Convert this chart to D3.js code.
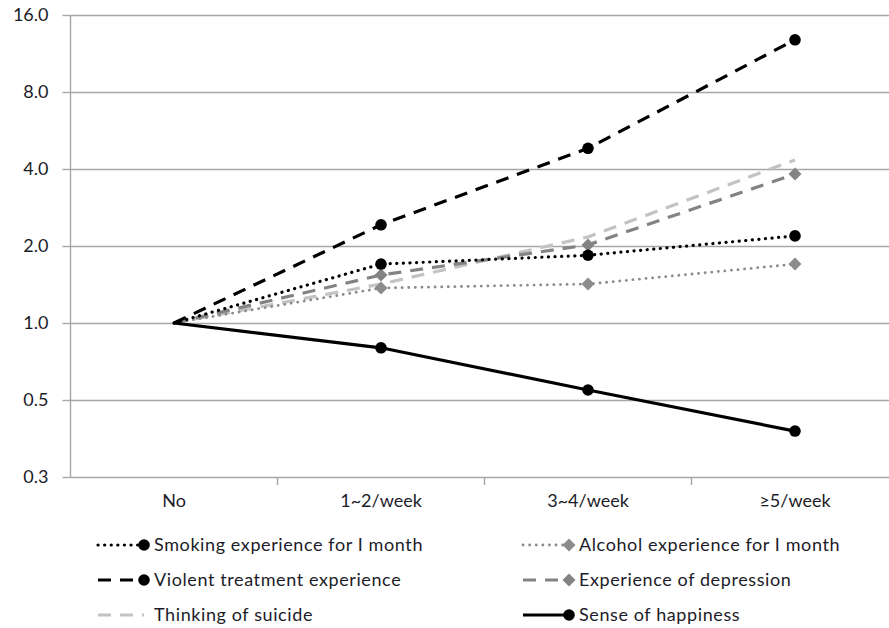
<!DOCTYPE html>
<html><head><meta charset="utf-8">
<script src="https://cdn.jsdelivr.net/npm/d3@7"></script>
<style>html,body{margin:0;padding:0;background:#fff;}svg{display:block;font-family:Lato,"Open Sans",sans-serif;}</style>
</head><body>
<svg id="chart" width="889" height="628"></svg>
<script>
const categories = ["No", "1~2/week", "3~4/week", "\u22655/week"];
const yTicks = [0.25, 0.5, 1, 2, 4, 8, 16];
const yTickLabels = ["0.3", "0.5", "1.0", "2.0", "4.0", "8.0", "16.0"];

const smoking    = [1.0, 1.70, 1.84, 2.19];
const alcohol    = [1.0, 1.37, 1.42, 1.70];
const violent    = [1.0, 2.42, 4.82, 12.8];
const depression = [1.0, 1.54, 2.02, 3.82];
const suicide    = [1.0, 1.42, 2.17, 4.34];
const happiness  = [1.0, 0.80, 0.547, 0.378];

const seriesNames = ["Smoking experience for I month", "Alcohol experience for I month",
  "Violent treatment experience", "Experience of depression", "Thinking of suicide", "Sense of happiness"];

const series = [
  {name: seriesNames[0], values: smoking, color: "#000", width: 3.2, dash: "0.1 6.5", cap: "round", marker: "circle", mcolor: "#000"},
  {name: seriesNames[1], values: alcohol, color: "#8c8c8c", width: 2.8, dash: "0.1 6.5", cap: "round", marker: "diamond", mcolor: "#8c8c8c"},
  {name: seriesNames[2], values: violent, color: "#000", width: 3.2, dash: "13 9", cap: "butt", marker: "circle", mcolor: "#000"},
  {name: seriesNames[3], values: depression, color: "#838383", width: 3.2, dash: "13 9", cap: "butt", marker: "diamond", mcolor: "#838383"},
  {name: seriesNames[4], values: suicide, color: "#c3c3c3", width: 3.2, dash: "13 9", cap: "butt", marker: null, mcolor: null},
  {name: seriesNames[5], values: happiness, color: "#000", width: 3.2, dash: null, cap: "butt", marker: "circle", mcolor: "#000"}
];

const svg = d3.select("#chart");
const x = d3.scaleBand().domain(categories).range([70.5, 898.5]);
const y = d3.scaleLog().base(2).domain([0.25, 16]).range([477, 15]);
const cx = c => x(c) + x.bandwidth() / 2;
const textColor = "#1c1c28";

// gridlines
svg.append("g").selectAll("line").data(yTicks.slice(1)).join("line")
  .attr("x1", 70.5).attr("x2", 889).attr("y1", d => Math.round(y(d)) + 0.5).attr("y2", d => Math.round(y(d)) + 0.5)
  .attr("stroke", "#a6a6a6").attr("stroke-width", 1.4);

// y axis
const yAxis = d3.axisLeft(y).tickValues(yTicks).tickFormat((d, i) => yTickLabels[i]).tickSize(8).tickPadding(14);
const gy = svg.append("g").attr("transform", "translate(70.5,0)").call(yAxis);
gy.select(".domain").attr("stroke", "#a6a6a6").attr("stroke-width", 1.4).attr("d", "M0,15V477");
gy.selectAll(".tick line").attr("stroke", "#a6a6a6").attr("stroke-width", 1.4);
gy.selectAll(".tick text").attr("fill", textColor).style("font-size", "18px").style("font-family", "Lato, sans-serif");

// x axis
const xAxis = d3.axisBottom(x).tickSize(0).tickPadding(17);
const gx = svg.append("g").attr("transform", "translate(0,477.5)").call(xAxis);
gx.select(".domain").attr("stroke", "#a6a6a6").attr("stroke-width", 1.4).attr("d", "M70.5,0H889");
gx.selectAll(".tick text").attr("fill", textColor).style("font-size", "18px").style("font-family", "Lato, sans-serif");
// category boundary ticks
svg.append("g").selectAll("line").data(categories.slice(1)).join("line")
  .attr("x1", d => x(d)).attr("x2", d => x(d)).attr("y1", 477.5).attr("y2", 485)
  .attr("stroke", "#a6a6a6").attr("stroke-width", 1.4);

const line = d3.line().x((d, i) => cx(categories[i])).y(d => y(d));

function drawMarker(g, type, color, px, py) {
  if (type === "circle") {
    g.append("circle").attr("cx", px).attr("cy", py).attr("r", 5.8).attr("fill", color);
  } else if (type === "diamond") {
    g.append("path").attr("d", `M${px},${py-6.5}L${px+6.5},${py}L${px},${py+6.5}L${px-6.5},${py}Z`).attr("fill", color);
  }
}

const order = [4, 3, 1, 0, 2, 5];
const plot = svg.append("g");
order.forEach(k => {
  const s = series[k];
  plot.append("path").attr("d", line(s.values)).attr("fill", "none")
    .attr("stroke", s.color).attr("stroke-width", s.width)
    .attr("stroke-dasharray", s.dash).attr("stroke-linecap", s.cap);
  if (s.marker) {
    s.values.forEach((v, i) => { if (i > 0) drawMarker(plot, s.marker, s.mcolor, cx(categories[i]), y(v)); });
  }
});

// legend
const legendPos = [[98, 545], [523, 545], [98, 580], [523, 580], [98, 615], [523, 615]];
const leg = svg.append("g");
series.forEach((s, k) => {
  const [lx, ly] = legendPos[k];
  leg.append("line").attr("x1", lx).attr("x2", lx + 46).attr("y1", ly).attr("y2", ly)
    .attr("stroke", s.color).attr("stroke-width", s.width)
    .attr("stroke-dasharray", s.dash).attr("stroke-linecap", s.cap);
  if (s.marker) drawMarker(leg, s.marker, s.mcolor, lx + 46, ly);
  leg.append("text").attr("x", lx + 56).attr("y", ly).attr("dy", "0.35em")
    .attr("fill", textColor).style("font-size", "18px").style("letter-spacing", "0.6px").text(s.name);
});
</script>
</body></html>
